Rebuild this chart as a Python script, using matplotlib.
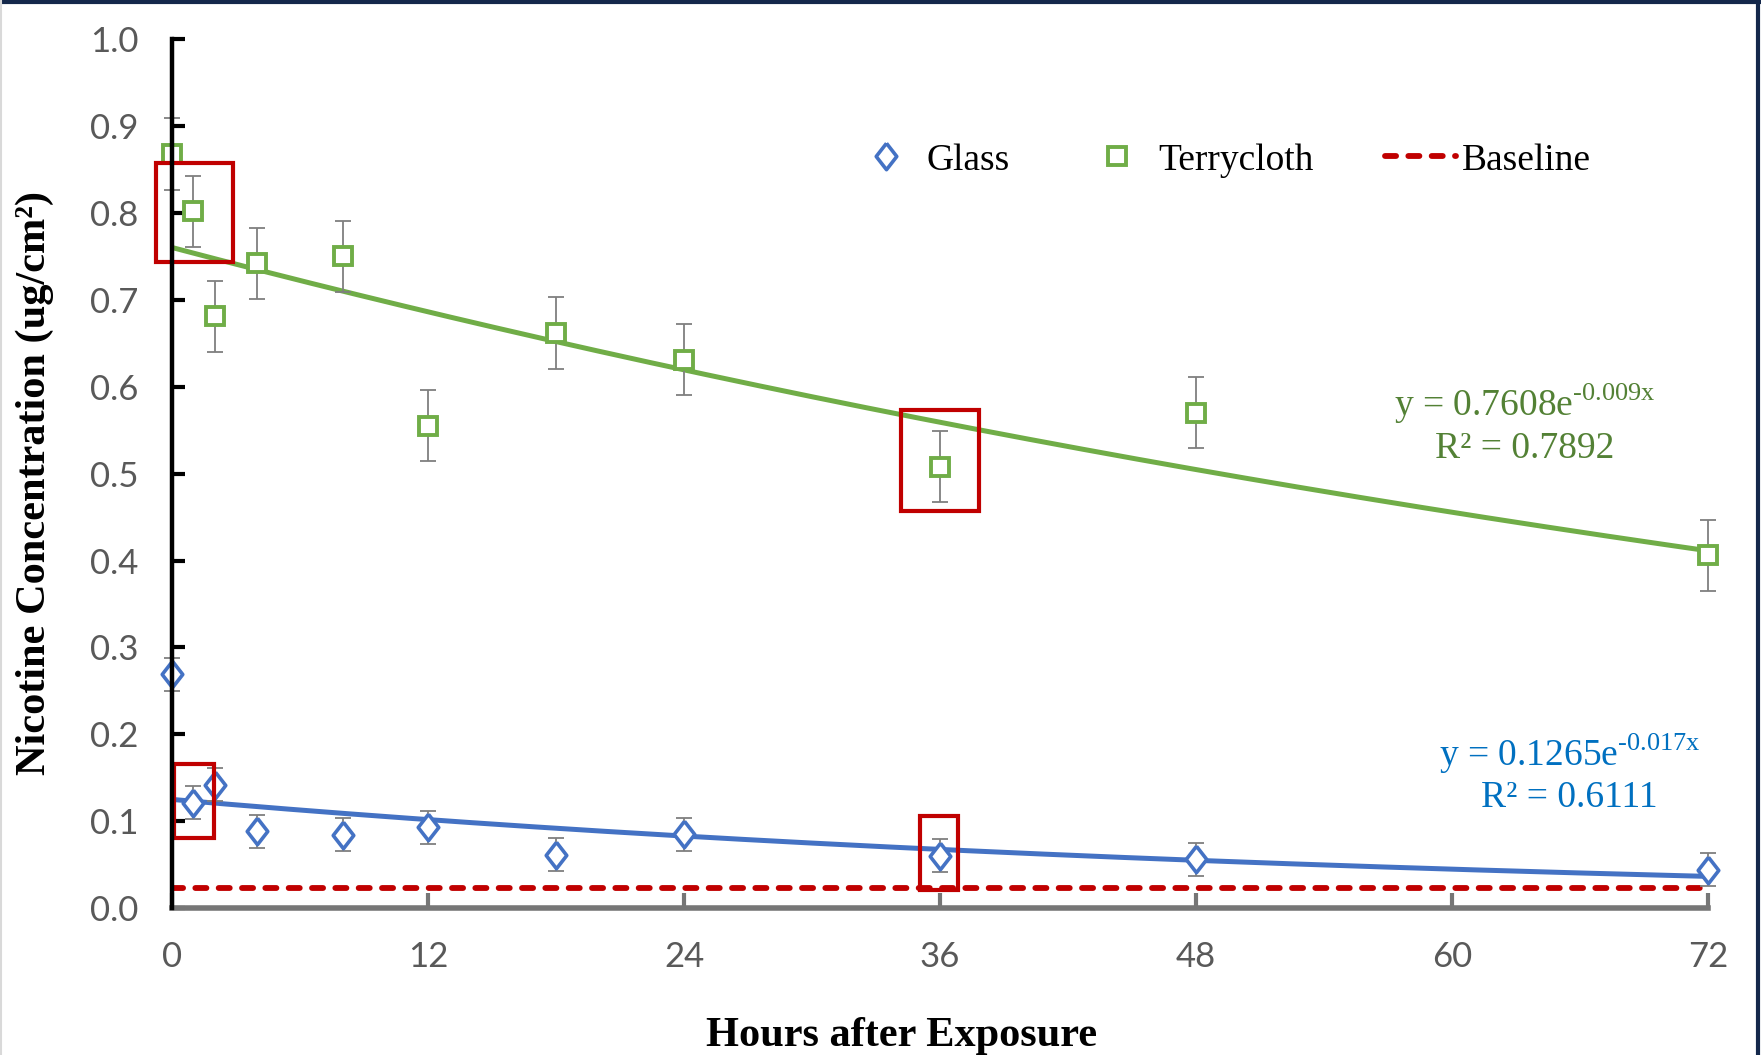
import numpy as np
import matplotlib.pyplot as plt
from matplotlib.lines import Line2D
from matplotlib.patches import Rectangle

plt.rcParams['mathtext.fontset'] = 'custom'
plt.rcParams['mathtext.rm'] = 'Liberation Serif'

# data
hours = [0, 1, 2, 4, 8, 12, 18, 24, 36, 48, 72]
terry = [0.868, 0.802, 0.681, 0.742, 0.750, 0.555, 0.662, 0.631, 0.508, 0.570, 0.406]
terry_err = [0.041, 0.041, 0.041, 0.041, 0.041, 0.041, 0.041, 0.041, 0.041, 0.041, 0.041]
glass = [0.269, 0.121, 0.142, 0.088, 0.084, 0.093, 0.061, 0.085, 0.060, 0.056, 0.044]
glass_err = [0.019, 0.019, 0.019, 0.019, 0.019, 0.019, 0.019, 0.019, 0.019, 0.019, 0.019]
baseline = 0.023

# highlighted regions (x0, x1, y0, y1)
boxes = [(-0.75, 2.85, 0.744, 0.858), (34.15, 37.8, 0.457, 0.573),
         (0.1, 1.95, 0.080, 0.166), (35.05, 36.85, 0.021, 0.106)]

blue = '#4472C4'
green = '#70AD47'
red = '#C00000'
grey = '#595959'

# diamond a bit wider than matplotlib's thin one
diamond = [(0, 1), (0.78, 0), (0, -1), (-0.78, 0), (0, 1)]


def exp_fit(x, y):
    # same kind of exponential trendline Excel draws (linear fit on log y)
    b, lna = np.polyfit(x, np.log(y), 1)
    return np.exp(lna), b


terry_a, terry_b = exp_fit(hours, terry)
glass_a, glass_b = exp_fit(hours, glass)

fig = plt.figure(figsize=(17.61, 10.55), dpi=100)
ax = fig.add_axes([0.0977, 0.1394, 0.8723, 0.8233])

xs = np.linspace(0, 72, 200)
ax.plot(xs, terry_a * np.exp(terry_b * xs), color=green, lw=3.6, zorder=2)
ax.plot(xs, glass_a * np.exp(glass_b * xs), color=blue, lw=3.6, zorder=2)
ax.plot([0, 72], [baseline, baseline], color=red, lw=4.2, dashes=(1.9, 2.1),
        dash_capstyle='round', zorder=2)

ax.errorbar(hours, terry, yerr=terry_err, fmt='none', ecolor='#7F7F7F', elinewidth=1.3,
            capsize=6, capthick=1.3, zorder=3, clip_on=False)
ax.errorbar(hours, glass, yerr=glass_err, fmt='none', ecolor='#7F7F7F', elinewidth=1.3,
            capsize=6, capthick=1.3, zorder=3, clip_on=False)
ax.plot(hours, terry, ls='none', marker='s', ms=13, mfc='white', mec=green, mew=2.8,
        zorder=4, clip_on=False)
ax.plot(hours, glass, ls='none', marker=diamond, ms=19, mfc='white', mec=blue, mew=2.6,
        zorder=4, clip_on=False)

for x0, x1, y0, y1 in boxes:
    ax.add_patch(Rectangle((x0, y0), x1 - x0, y1 - y0, fill=False, ec=red, lw=3.0,
                           zorder=5, clip_on=False))

ax.text(63.4, 0.58, 'y = 0.7608e$^{\\mathrm{\u2010}0.009\\mathrm{x}}$', color='#538135',
        fontsize=27, family='Liberation Serif', ha='center', va='center')
ax.text(63.4, 0.529, 'R² = 0.7892', color='#538135', fontsize=27,
        family='Liberation Serif', ha='center', va='center')
ax.text(65.5, 0.177, 'y = 0.1265e$^{\\mathrm{\u2010}0.017\\mathrm{x}}$', color='#0070C0',
        fontsize=27, family='Liberation Serif', ha='center', va='center')
ax.text(65.5, 0.127, 'R² = 0.6111', color='#0070C0', fontsize=27,
        family='Liberation Serif', ha='center', va='center')

ax.set_xlim(0, 72)
ax.set_ylim(0, 1.0)
ax.set_xticks(np.arange(0, 73, 12))
ax.set_yticks(np.arange(0, 1.01, 0.1))
ax.set_yticklabels([f'{v:.1f}' for v in np.arange(0, 1.01, 0.1)])

for s in ['top', 'right']:
    ax.spines[s].set_visible(False)
ax.spines['left'].set_color('black')
ax.spines['left'].set_linewidth(3.2)
ax.spines['bottom'].set_color('#767676')
ax.spines['bottom'].set_linewidth(4)
ax.spines['left'].set_zorder(6)
ax.tick_params(axis='y', direction='in', length=9, width=3, color='black',
               labelcolor=grey, labelsize=25, pad=24)
ax.tick_params(axis='x', direction='in', length=11, width=3, color='#767676',
               labelcolor=grey, labelsize=25, pad=24)
for lab in ax.get_xticklabels() + ax.get_yticklabels():
    lab.set_family('Lato')

ax.set_xlabel('Hours after Exposure', family='Liberation Serif', fontweight='bold',
              fontsize=30.5)
ax.xaxis.set_label_coords(0.475, -0.125)
ax.set_ylabel('Nicotine Concentration (ug/cm²)', family='Liberation Serif',
              fontweight='bold', fontsize=30.5)
ax.yaxis.set_label_coords(-0.077, 0.489)

handles = [Line2D([], [], ls='none', marker=diamond, ms=19, mfc='white', mec=blue, mew=2.6),
           Line2D([], [], ls='none', marker='s', ms=13, mfc='white', mec=green, mew=2.8),
           Line2D([], [], color=red, lw=4.2, dashes=(1.9, 2.1), dash_capstyle='round')]
fig.legend(handles, ['Glass', 'Terrycloth', 'Baseline'], loc='center',
           bbox_to_anchor=(0.693, 0.848), ncol=3, frameon=False,
           prop={'family': 'Liberation Serif', 'size': 27},
           handlelength=1.9, handletextpad=0.15, columnspacing=1.9)

# frame around the picture
fig.add_artist(Line2D([0, 1], [0.998, 0.998], color='#14284B', lw=3, transform=fig.transFigure))
fig.add_artist(Line2D([0.9985, 0.9985], [0, 1], color='#14284B', lw=3, transform=fig.transFigure))
fig.add_artist(Line2D([0.0008, 0.0008], [0, 1], color='#D9D9D9', lw=1.5, transform=fig.transFigure))

fig.savefig('out.png', dpi=100)
